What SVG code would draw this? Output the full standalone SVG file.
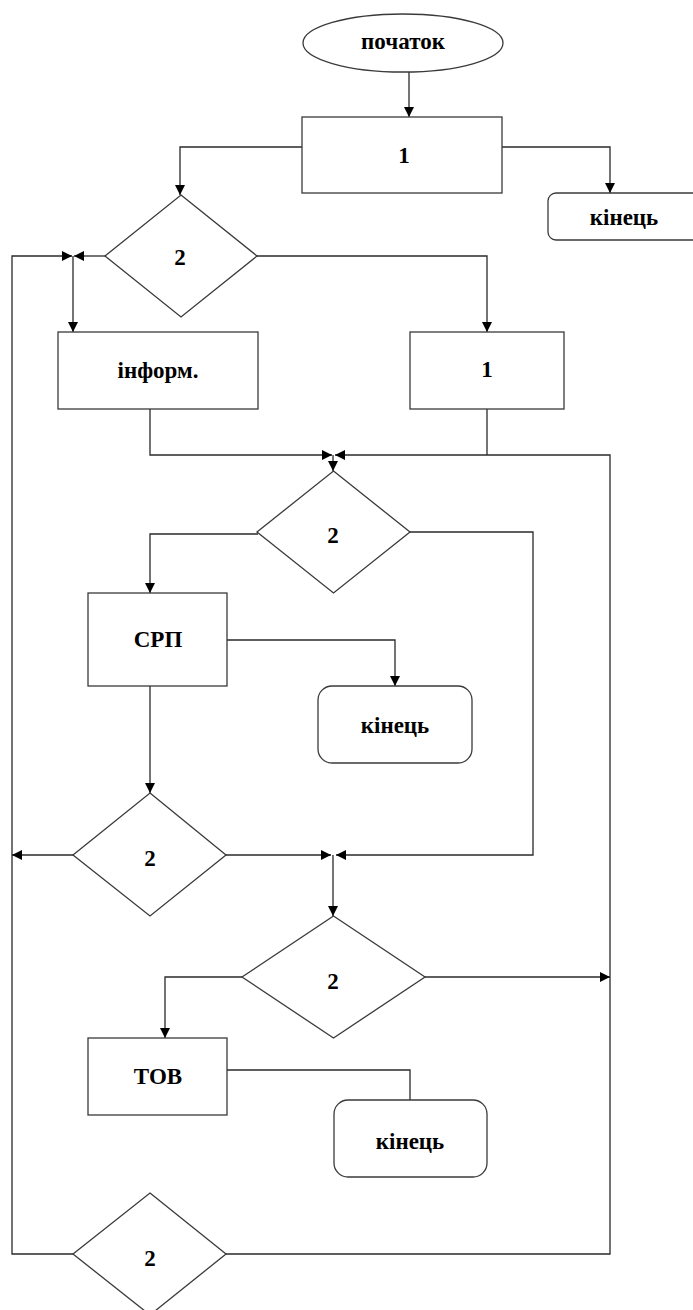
<svg xmlns="http://www.w3.org/2000/svg" width="693" height="1310" viewBox="0 0 693 1310">
<style>
.s{fill:#fff;stroke:#3a3a3a;stroke-width:1.3}
.c{fill:none;stroke:#2a2a2a;stroke-width:1.3}
.ca{fill:none;stroke:#2a2a2a;stroke-width:1.3;marker-end:url(#ah)}
.t{font-family:"Liberation Serif","Times New Roman",serif;font-weight:bold;font-size:23px;fill:#000;text-anchor:middle}
</style>
<defs>
<marker id="ah" markerUnits="userSpaceOnUse" markerWidth="10" markerHeight="10" refX="10" refY="5" orient="auto">
<path d="M0,0 L10,5 L0,10 z" fill="#000"/>
</marker>
</defs>
<rect width="693" height="1310" fill="#fff"/>
<g id="connectors">
<path class="ca" d="M409,72 V117"/>
<path class="ca" d="M302,147 H180 V195"/>
<path class="ca" d="M502,147 H610 V193"/>
<path class="ca" d="M105,256 H74"/>
<path class="ca" d="M257,256 H487 V332"/>
<path class="ca" d="M73,256 V332"/>
<path class="ca" d="M73,1254 H12 V256 H72"/>
<path class="ca" d="M150,409 V455 H332"/>
<path class="c" d="M487,409 V455"/>
<path class="ca" d="M226,1254 H610 V455 H335"/>
<path class="ca" d="M333,455 V471"/>
<path class="ca" d="M258,534 H150 V593"/>
<path class="ca" d="M410,532 H533 V855 H336"/>
<path class="ca" d="M227,640 H395 V686"/>
<path class="ca" d="M150,686 V793"/>
<path class="ca" d="M73,855 H12"/>
<path class="ca" d="M226,855 H331"/>
<path class="ca" d="M333,855 V916"/>
<path class="ca" d="M425,977 H610"/>
<path class="ca" d="M242,977 H165 V1038"/>
<path class="c" d="M227,1070 H410 V1100"/>
</g>
<g id="start">
<ellipse class="s" cx="403" cy="43" rx="100" ry="29"/>
<text class="t" x="403" y="49">початок</text>
</g>
<g id="box1">
<rect class="s" x="302" y="117" width="200" height="76"/>
<text class="t" x="404" y="163">1</text>
</g>
<g id="end1">
<rect class="s" x="548" y="193" width="160" height="47" rx="8"/>
<text class="t" x="624" y="225">кінець</text>
</g>
<g id="dec1">
<polygon class="s" points="181,195 257,256 181,317 105,256"/>
<text class="t" x="180" y="265">2</text>
</g>
<g id="inform">
<rect class="s" x="58" y="332" width="200" height="77"/>
<text class="t" x="158" y="378">інформ.</text>
</g>
<g id="box2">
<rect class="s" x="410" y="332" width="154" height="77"/>
<text class="t" x="487" y="377">1</text>
</g>
<g id="dec2">
<polygon class="s" points="333.5,471 410,532 333.5,593 257,532"/>
<text class="t" x="333" y="543">2</text>
</g>
<g id="srp">
<rect class="s" x="88" y="593" width="139" height="93"/>
<text class="t" x="158" y="647">СРП</text>
</g>
<g id="end2">
<rect class="s" x="318" y="686" width="154" height="77" rx="14"/>
<text class="t" x="395" y="733">кінець</text>
</g>
<g id="dec3">
<polygon class="s" points="150,793 226,855 150,916 73,855"/>
<text class="t" x="150" y="866">2</text>
</g>
<g id="dec4">
<polygon class="s" points="333.5,916 425,977 333.5,1038 242,977"/>
<text class="t" x="333" y="989">2</text>
</g>
<g id="tob">
<rect class="s" x="88" y="1038" width="139" height="77"/>
<text class="t" x="158" y="1084">ТОВ</text>
</g>
<g id="end3">
<rect class="s" x="334" y="1100" width="153" height="77" rx="14"/>
<text class="t" x="410" y="1149">кінець</text>
</g>
<g id="dec5">
<polygon class="s" points="150,1193 226,1254 150,1315 73,1254"/>
<text class="t" x="150" y="1266">2</text>
</g>
</svg>
